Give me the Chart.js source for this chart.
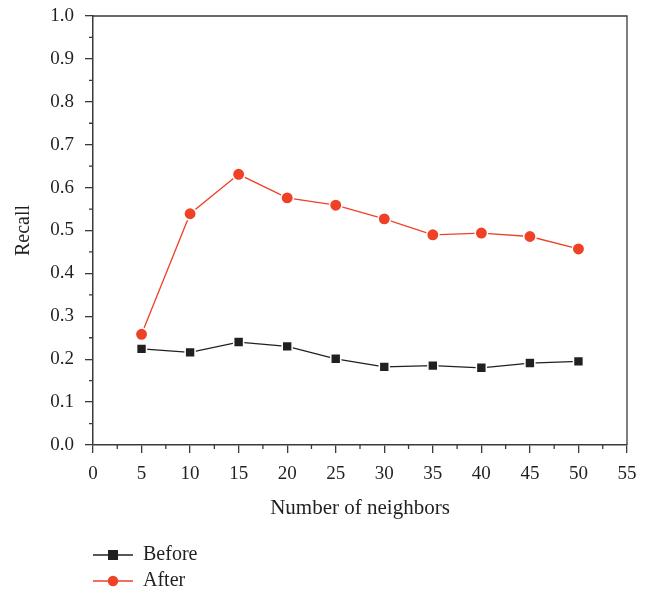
<!DOCTYPE html>
<html>
<head>
<meta charset="utf-8">
<script src="https://cdn.jsdelivr.net/npm/chart.js@4"></script>
<style>
    html, body { margin: 0; padding: 0; background: #fff; }
    #wrap { width: 656px; height: 593px; }
</style>
</head>
<body>
<div id="wrap"><canvas id="recall-chart" width="656" height="593"></canvas></div>
<script>
let neighbors = [5, 10, 15, 20, 25, 30, 35, 40, 45, 50];
let before = [0.224, 0.216, 0.240, 0.230, 0.201, 0.182, 0.185, 0.180, 0.191, 0.195];
let after = [0.258, 0.539, 0.631, 0.576, 0.559, 0.527, 0.490, 0.494, 0.486, 0.457];
let seriesNames = ["Before", "After"];

let serif = "'Liberation Serif', 'DejaVu Serif', serif";
let axisColor = "#3a3a3a";

// minor ticks, frame on top/right, and the stacked legend under the chart
let extras = {
    id: 'extras',
    afterDraw(chart) {
        let ctx = chart.ctx;
        let xs = chart.scales.x;
        let ys = chart.scales.y;
        let area = chart.chartArea;
        ctx.save();
        ctx.strokeStyle = axisColor;
        ctx.lineWidth = 1.3;
        ctx.beginPath();
        for (let v = 2.5; v < 55; v += 5) {
            let px = xs.getPixelForValue(v);
            ctx.moveTo(px, area.bottom);
            ctx.lineTo(px, area.bottom + 4);
        }
        for (let v = 0.05; v < 1; v += 0.1) {
            let py = ys.getPixelForValue(v);
            ctx.moveTo(area.left, py);
            ctx.lineTo(area.left - 4, py);
        }
        ctx.moveTo(area.left, area.top);
        ctx.lineTo(area.right, area.top);
        ctx.lineTo(area.right, area.bottom);
        ctx.stroke();

        chart.data.datasets.forEach((ds, i) => {
            let y = 555 + i * 26;
            ctx.strokeStyle = ds.borderColor;
            ctx.lineWidth = 1.3;
            ctx.beginPath();
            ctx.moveTo(93, y);
            ctx.lineTo(133, y);
            ctx.stroke();
            ctx.fillStyle = ds.pointBackgroundColor;
            ctx.beginPath();
            if (ds.pointStyle === 'rect') {
                ctx.rect(108, y - 5, 10, 10);
            } else {
                ctx.arc(113, y, 5.2, 0, Math.PI * 2);
            }
            ctx.fill();
            ctx.fillStyle = "#231f20";
            ctx.font = "20px " + serif;
            ctx.textBaseline = 'middle';
            ctx.textAlign = 'left';
            ctx.fillText(ds.label, 143, y);
        });
        ctx.restore();
    }
};

new Chart(document.getElementById("recall-chart"), {
    type: 'line',
    data: {
        datasets: [{
            label: seriesNames[0],
            data: neighbors.map((n, i) => ({x: n, y: before[i]})),
            borderColor: "#231f20",
            borderWidth: 1.3,
            pointStyle: 'rect',
            pointRadius: 7,
            pointBackgroundColor: "#231f20",
            pointBorderColor: "#ffffff",
            pointBorderWidth: 1.5,
            fill: false
        }, {
            label: seriesNames[1],
            data: neighbors.map((n, i) => ({x: n, y: after[i]})),
            borderColor: "#ee4126",
            borderWidth: 1.3,
            pointStyle: 'circle',
            pointRadius: 6.2,
            pointBackgroundColor: "#ee4126",
            pointBorderColor: "#ffffff",
            pointBorderWidth: 1.5,
            fill: false
        }]
    },
    options: {
        responsive: false,
        animation: false,
        layout: {padding: {left: 0, top: 16, right: 29, bottom: 71}},
        plugins: {
            legend: {display: false},
            tooltip: {enabled: false}
        },
        scales: {
            x: {
                type: 'linear',
                min: 0,
                max: 55,
                afterFit: (scale) => {
                    scale.height = 77;
                    scale.paddingLeft = 0;
                    scale.paddingRight = 0;
                },
                ticks: {
                    stepSize: 5,
                    color: "#231f20",
                    padding: 10,
                    maxRotation: 0,
                    font: {family: serif, size: 19}
                },
                grid: {
                    drawOnChartArea: false,
                    tickLength: 8,
                    color: axisColor,
                    lineWidth: 1.3
                },
                border: {color: axisColor, width: 1.5},
                title: {
                    display: true,
                    text: "Number of neighbors",
                    color: "#231f20",
                    padding: {top: 0, bottom: 1},
                    font: {family: serif, size: 21}
                }
            },
            y: {
                min: 0,
                max: 1,
                afterFit: (scale) => {
                    scale.width = 93;
                    scale.paddingTop = 0;
                    scale.paddingBottom = 0;
                },
                ticks: {
                    stepSize: 0.1,
                    color: "#231f20",
                    padding: 11,
                    callback: (v) => v.toFixed(1),
                    font: {family: serif, size: 19}
                },
                grid: {
                    drawOnChartArea: false,
                    tickLength: 8,
                    color: axisColor,
                    lineWidth: 1.3
                },
                border: {color: axisColor, width: 1.5},
                title: {
                    display: true,
                    text: "Recall",
                    color: "#231f20",
                    padding: {top: 12, bottom: 0},
                    font: {family: serif, size: 20}
                }
            }
        }
    },
    plugins: [extras]
});
</script>
</body>
</html>
